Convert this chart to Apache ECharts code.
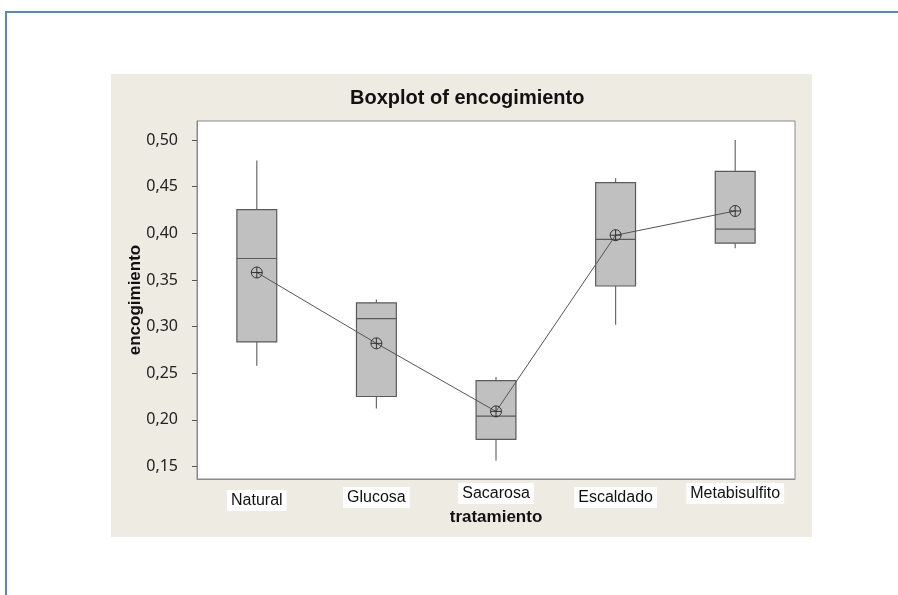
<!DOCTYPE html>
<html>
<head>
<meta charset="utf-8">
<script src="https://cdn.jsdelivr.net/npm/echarts@6/dist/echarts.min.js"></script>
<style>
    html, body {margin: 0; padding: 0; background: #fff; overflow: hidden;}
    .marco {position: absolute; left: 5px; top: 11px; width: 1000px; height: 700px;
        border-top: 2px solid #5588c4; border-left: 2px solid #5588c4;}
    #grafico {position: absolute; left: 111px; top: 74px; width: 701px; height: 463px;}
</style>
</head>
<body>
<div class="marco"></div>
<div id="grafico"></div>
<script>
var categorias = ['Natural', 'Glucosa', 'Sacarosa', 'Escaldado', 'Metabisulfito'];
var bigoteInf = [0.258, 0.212, 0.156, 0.302, 0.384];
var cuartil1 = [0.2835, 0.225, 0.179, 0.3435, 0.3895];
var mediana = [0.373, 0.3085, 0.204, 0.3935, 0.4045];
var cuartil3 = [0.4255, 0.3255, 0.242, 0.4545, 0.4665];
var bigoteSup = [0.478, 0.329, 0.246, 0.459, 0.500];
var media = [0.358, 0.282, 0.209, 0.398, 0.424];
var ticksY = [0.15, 0.20, 0.25, 0.30, 0.35, 0.40, 0.45, 0.50];

(function () {
    var chart = echarts.init(document.getElementById('grafico'));

    var cajas = categorias.map(function (c, i) {
        return [i, bigoteInf[i], cuartil1[i], mediana[i], cuartil3[i], bigoteSup[i]];
    });
    // pequeño desplazamiento vertical de cada etiqueta, como en la imagen
    var desplaza = [7, 4, 0, 4, 0];
    var fuenteTitulo = 'Liberation Sans';

    chart.setOption({
        backgroundColor: '#eeebe3',
        animation: false,
        title: {
            text: 'Boxplot of encogimiento',
            left: 234,
            top: 9,
            textStyle: {fontFamily: fuenteTitulo, fontWeight: 'bold', fontSize: 20, color: '#111'}
        },
        grid: {
            left: 86, top: 47, right: 17, bottom: 58,
            outerBoundsMode: 'none',
            containLabel: false,
            show: true, backgroundColor: '#fff', borderColor: '#8a8a8a', borderWidth: 1
        },
        xAxis: {
            type: 'category',
            data: categorias.map(function (c, i) {
                return {value: c, textStyle: {padding: [desplaza[i], 0, 0, 0]}};
            }),
            boundaryGap: true,
            name: 'tratamiento',
            nameLocation: 'middle',
            nameGap: 30,
            nameMoveOverlap: false,
            nameTextStyle: {fontFamily: fuenteTitulo, fontWeight: 'bold', fontSize: 17, color: '#111'},
            axisLine: {lineStyle: {color: '#8a8a8a'}},
            axisTick: {alignWithLabel: true, length: 4, lineStyle: {color: '#666'}},
            axisLabel: {
                margin: 4,
                formatter: function (v) { return '{b|' + v + '}'; },
                rich: {
                    b: {backgroundColor: '#fff', padding: [3, 4, 2, 4], fontFamily: 'Liberation Sans',
                        fontSize: 16, color: '#111'}
                }
            },
            splitLine: {show: false}
        },
        yAxis: {
            type: 'value',
            min: 0.1365,
            max: 0.5205,
            name: 'encogimiento',
            nameLocation: 'middle',
            nameGap: 53,
            nameMoveOverlap: false,
            nameTextStyle: {fontFamily: fuenteTitulo, fontWeight: 'bold', fontSize: 17, color: '#111'},
            axisLine: {show: true, lineStyle: {color: '#8a8a8a'}},
            axisTick: {show: true, length: 5, customValues: ticksY, lineStyle: {color: '#555'}},
            axisLabel: {
                margin: 19,
                customValues: ticksY,
                fontFamily: 'Noto Sans',
                fontSize: 16,
                color: '#222',
                formatter: function (v) { return v.toFixed(2).replace('.', ','); }
            },
            splitLine: {show: false}
        },
        series: [
            {
                name: 'caja',
                type: 'custom',
                data: cajas,
                encode: {x: 0, y: [1, 2, 3, 4, 5]},
                renderItem: function (params, api) {
                    var i = api.value(0);
                    var ancho = api.size([1, 0])[0] / 3;
                    var pInf = api.coord([i, api.value(1)]);
                    var pQ1 = api.coord([i, api.value(2)]);
                    var pMed = api.coord([i, api.value(3)]);
                    var pQ3 = api.coord([i, api.value(4)]);
                    var pSup = api.coord([i, api.value(5)]);
                    var x = pQ1[0];
                    var bigote = {stroke: '#6a6a6a', lineWidth: 1.2};
                    return {
                        type: 'group',
                        children: [
                            {type: 'line', shape: {x1: x, y1: pQ3[1], x2: x, y2: pSup[1]}, style: bigote},
                            {type: 'line', shape: {x1: x, y1: pQ1[1], x2: x, y2: pInf[1]}, style: bigote},
                            {
                                type: 'rect',
                                shape: {x: x - ancho / 2, y: pQ3[1], width: ancho, height: pQ1[1] - pQ3[1]},
                                style: {fill: '#c0c0c0', stroke: '#5a5a5a', lineWidth: 1.2}
                            },
                            {
                                type: 'line',
                                shape: {x1: x - ancho / 2, y1: pMed[1], x2: x + ancho / 2, y2: pMed[1]},
                                style: {stroke: '#5a5a5a', lineWidth: 1.2}
                            }
                        ]
                    };
                }
            },
            {
                name: 'media',
                type: 'line',
                data: media,
                z: 5,
                symbol: 'path://M0,-5A5,5 0 1,1 0,5A5,5 0 1,1 0,-5ZM-5,0L5,0M0,-5L0,5',
                symbolSize: 11,
                showSymbol: true,
                itemStyle: {color: 'rgba(0,0,0,0)', borderColor: '#333', borderWidth: 1},
                lineStyle: {color: '#555', width: 1}
            }
        ]
    });
})();
</script>
</body>
</html>
